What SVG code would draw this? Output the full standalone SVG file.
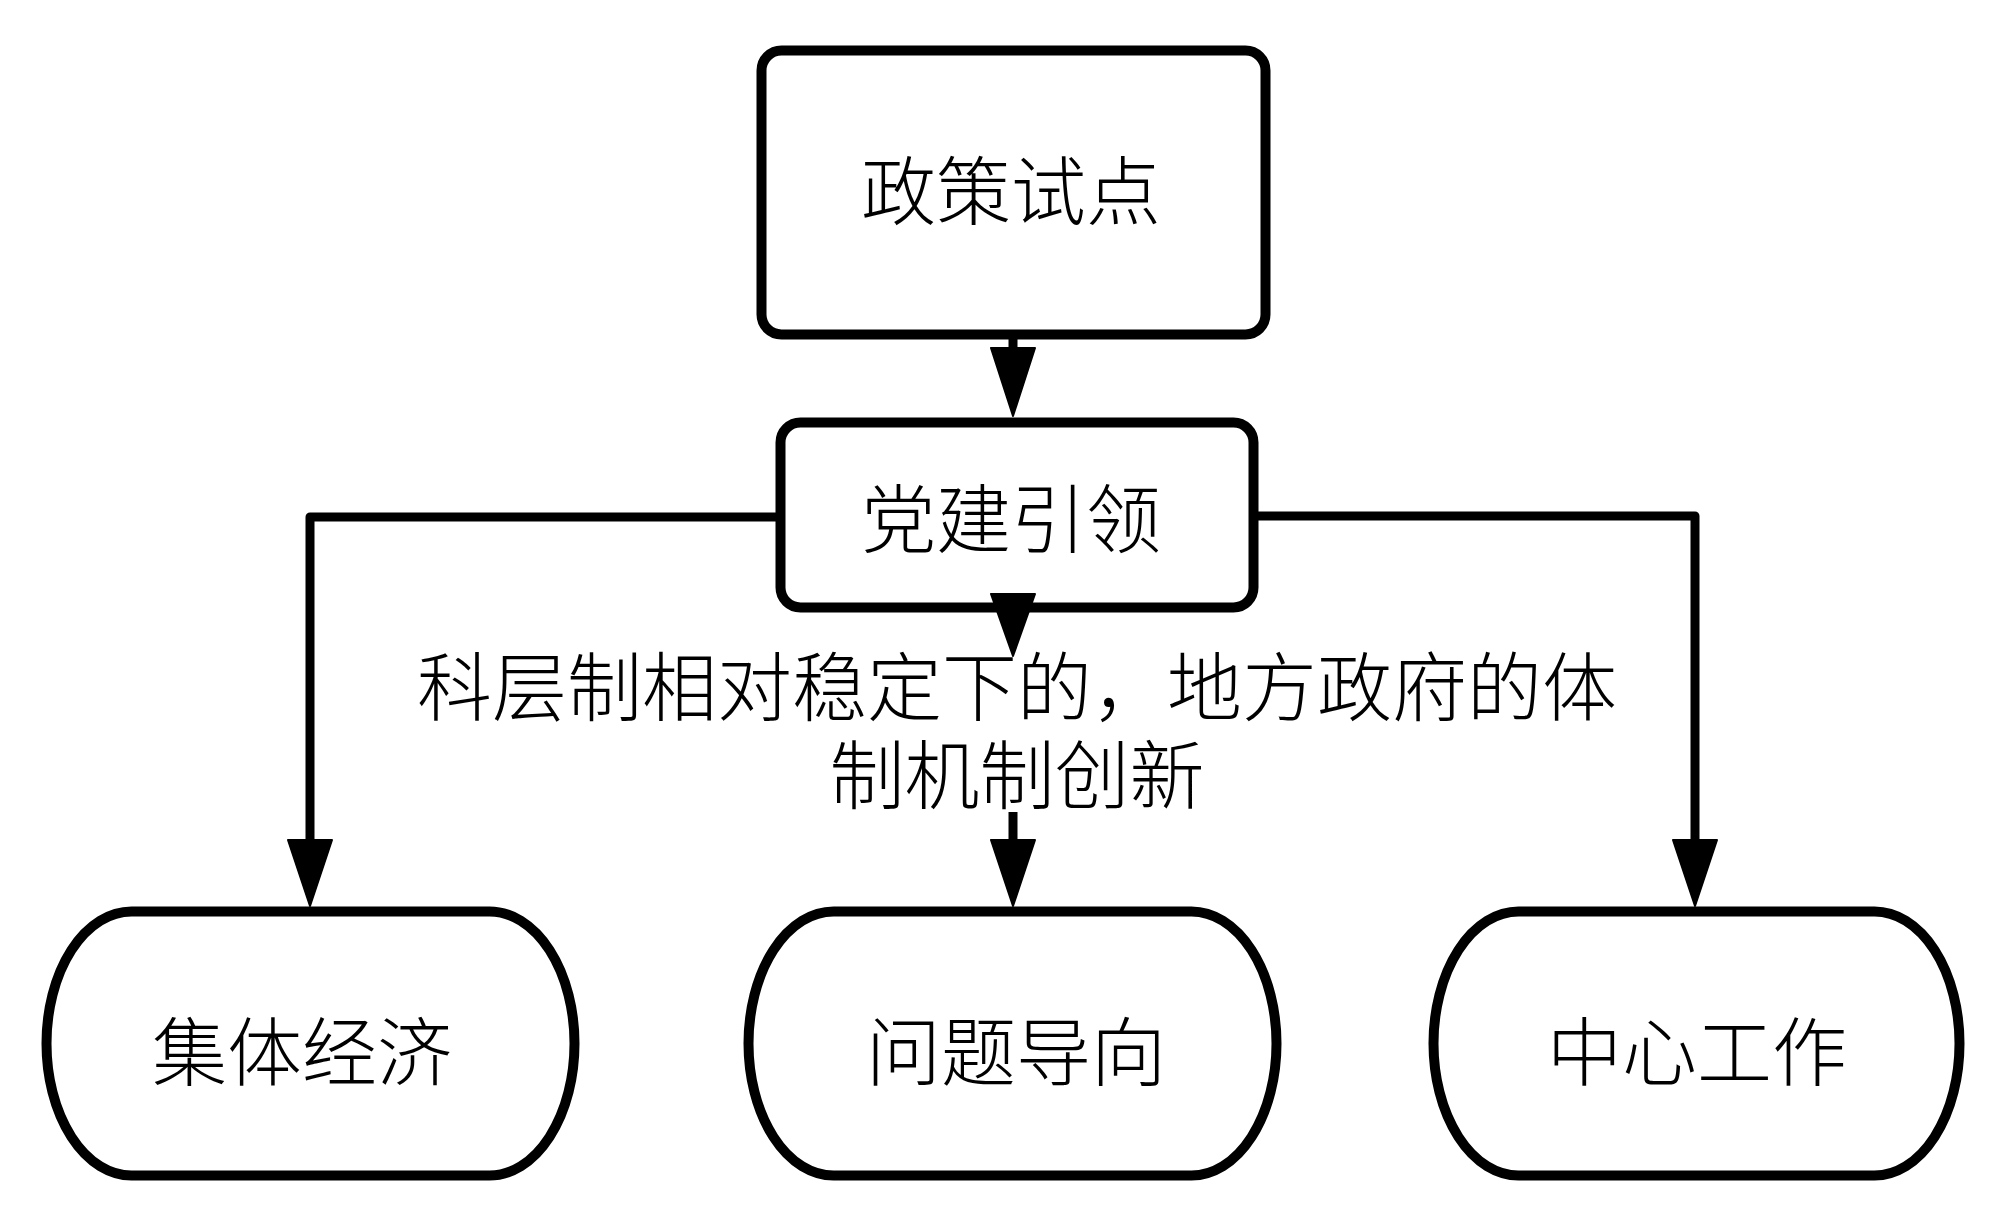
<svg xmlns="http://www.w3.org/2000/svg" width="2000" height="1218" viewBox="0 0 2000 1218">
<style>
.node{fill:#fff;stroke:#000;stroke-width:10}
.lbl{font-family:"Noto Sans CJK SC","Noto Sans CJK TC",sans-serif;font-size:75px;font-weight:300;fill:#000;text-anchor:middle}
.edge{fill:none;stroke:#000;stroke-width:9;stroke-linejoin:round}
.head{fill:#000;stroke:#000;stroke-width:2;stroke-linejoin:round}
</style>
<rect width="2000" height="1218" fill="#fff"/>
<g id="connectors">
<line class="edge" x1="1013" y1="339" x2="1013" y2="352"/>
<polygon class="head" points="991,348 1035,348 1013,416"/>
<path class="edge" d="M776,517 H310 V844"/>
<polygon class="head" points="288,840 332,840 310,906"/>
<path class="edge" d="M1258,516 H1695 V844"/>
<polygon class="head" points="1673,840 1717,840 1695,906"/>
<line class="edge" x1="1013" y1="812" x2="1013" y2="844"/>
<polygon class="head" points="991,840 1035,840 1013,906"/>
</g>
<g id="n1">
<rect class="node" x="761.5" y="50.5" width="504" height="284" rx="20"/>
<text class="lbl" x="1011" y="219">政策试点</text>
</g>
<g id="n2">
<rect class="node" x="780.5" y="422.5" width="473" height="185" rx="20"/>
<text class="lbl" x="1011" y="547">党建引领</text>
</g>
<g id="edge-label">
<polygon class="head" points="991,594 1035,594 1013,656"/>
<text class="lbl" x="1017" y="715">科层制相对稳定下的，地方政府的体<tspan x="1017" y="803">制机制创新</tspan></text>
</g>
<g id="n3">
<rect class="node" x="46.5" y="911.5" width="528" height="264" rx="85" ry="132"/>
<text class="lbl" x="302" y="1080">集体经济</text>
</g>
<g id="n4">
<rect class="node" x="748.5" y="911.5" width="528" height="264" rx="85" ry="132"/>
<text class="lbl" x="1016" y="1080">问题导向</text>
</g>
<g id="n5">
<rect class="node" x="1433.5" y="911.5" width="526" height="264" rx="85" ry="132"/>
<text class="lbl" x="1697" y="1080">中心工作</text>
</g>
</svg>
